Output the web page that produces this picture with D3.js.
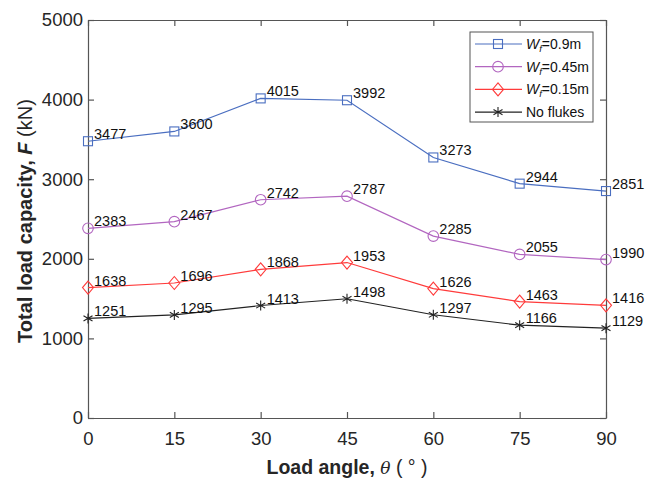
<!DOCTYPE html>
<html>
<head>
<meta charset="utf-8">
<script src="https://cdn.jsdelivr.net/npm/d3@7"></script>
<style>
  body { margin: 0; background: #fff; }
  text { font-family: "Liberation Sans", Arial, sans-serif; }
</style>
</head>
<body>
<div class="root"></div>
<script>
var angles = [0, 15, 30, 45, 60, 75, 90];
var wf09 = [3477, 3600, 4015, 3992, 3273, 2944, 2851];
var wf045 = [2383, 2467, 2742, 2787, 2285, 2055, 1990];
var wf015 = [1638, 1696, 1868, 1953, 1626, 1463, 1416];
var noFlukes = [1251, 1295, 1413, 1498, 1297, 1166, 1129];
var xTicks = [0, 15, 30, 45, 60, 75, 90];
var yTicks = [0, 1000, 2000, 3000, 4000, 5000];

var series = [
  {name: '0.9m', values: wf09, color: '#4a6ec0', marker: 'square'},
  {name: '0.45m', values: wf045, color: '#b266c0', marker: 'circle'},
  {name: '0.15m', values: wf015, color: '#ff3b3b', marker: 'diamond'},
  {name: 'No flukes', values: noFlukes, color: '#222', marker: 'star'}
];

function drawMarker(g, type, color) {
  if (type === 'square') {
    g.append('rect').attr('x', -4.5).attr('y', -4.5).attr('width', 9).attr('height', 9)
      .attr('fill', 'none').attr('stroke', color).attr('stroke-width', 1.1);
  } else if (type === 'circle') {
    g.append('circle').attr('r', 5.3)
      .attr('fill', 'none').attr('stroke', color).attr('stroke-width', 1.1);
  } else if (type === 'diamond') {
    g.append('path').attr('d', 'M0,-6.5L5.5,0L0,6.5L-5.5,0Z')
      .attr('fill', 'none').attr('stroke', color).attr('stroke-width', 1.1);
  } else {
    g.append('path').attr('d', 'M0,-5V5M-4.5,-2.6L4.5,2.6M-4.5,2.6L4.5,-2.6')
      .attr('fill', 'none').attr('stroke', color).attr('stroke-width', 1.1);
  }
}

function runChart() {
  var w = 657, h = 482;
  var m = {left: 88, right: 51, top: 20, bottom: 64};
  var iw = w - m.left - m.right, ih = h - m.top - m.bottom;

  var svg = d3.select('.root').append('svg')
    .attr('width', w)
    .attr('height', h);

  var x = d3.scaleLinear().domain([0, 90]).range([0, iw]);
  var y = d3.scaleLinear().domain([0, 5000]).range([ih, 0]);

  var g = svg.append('g').attr('transform', 'translate(' + m.left + ',' + m.top + ')');

  // axes with inward ticks on all four sides
  var axisColor = '#555';
  function styleAxis(sel) {
    sel.select('.domain').attr('stroke', axisColor).attr('stroke-width', 1.2);
    sel.selectAll('.tick line').attr('stroke', axisColor).attr('stroke-width', 1.2);
    sel.selectAll('.tick text').attr('fill', '#262626').attr('font-size', 18.5);
  }
  g.append('g').attr('transform', 'translate(0,' + ih + ')')
    .call(d3.axisBottom(x).tickValues(xTicks).tickSizeInner(-6).tickSizeOuter(0).tickPadding(14))
    .call(styleAxis);
  g.append('g')
    .call(d3.axisLeft(y).tickValues(yTicks).tickFormat(d3.format('d')).tickSizeInner(-6).tickSizeOuter(0).tickPadding(5))
    .call(styleAxis);
  g.append('g')
    .call(d3.axisTop(x).tickValues(xTicks).tickSizeInner(-6).tickSizeOuter(0).tickFormat(''))
    .call(styleAxis);
  g.append('g').attr('transform', 'translate(' + iw + ',0)')
    .call(d3.axisRight(y).tickValues(yTicks).tickSizeInner(-6).tickSizeOuter(0).tickFormat(''))
    .call(styleAxis);

  var line = d3.line()
    .x(function(d, i) { return x(angles[i]); })
    .y(function(d) { return y(d); });

  series.forEach(function(s) {
    g.append('path').datum(s.values)
      .attr('d', line)
      .attr('fill', 'none')
      .attr('stroke', s.color)
      .attr('stroke-width', 1.2);

    s.values.forEach(function(v, i) {
      var mg = g.append('g').attr('transform', 'translate(' + x(angles[i]) + ',' + y(v) + ')');
      drawMarker(mg, s.marker, s.color);
      g.append('text')
        .attr('x', x(angles[i]) + 6)
        .attr('y', y(v) - 2)
        .attr('font-size', 14.5)
        .attr('fill', '#111')
        .text(v);
    });
  });

  // legend
  var lg = svg.append('g').attr('transform', 'translate(470,32)');
  lg.append('rect').attr('width', 123).attr('height', 90)
    .attr('fill', '#fff').attr('stroke', '#555').attr('stroke-width', 1);
  series.forEach(function(s, i) {
    var ry = 12 + i * 22.7;
    lg.append('line').attr('x1', 5).attr('x2', 52).attr('y1', ry).attr('y2', ry)
      .attr('stroke', s.color).attr('stroke-width', 1.2);
    drawMarker(lg.append('g').attr('transform', 'translate(28,' + ry + ')'), s.marker, s.color);
    var t = lg.append('text').attr('x', 56).attr('y', ry + 5).attr('font-size', 14).attr('fill', '#111');
    if (s.marker === 'star') {
      t.text(s.name);
    } else {
      t.append('tspan').attr('font-style', 'italic').text('W');
      t.append('tspan').attr('font-style', 'italic').attr('font-size', 9.5).attr('dy', 3).text('f');
      t.append('tspan').attr('dy', -3).text('=' + s.name);
    }
  });

  // axis titles
  var xt = svg.append('text')
    .attr('x', m.left + iw / 2).attr('y', 474)
    .attr('text-anchor', 'middle')
    .attr('font-size', 19.5).attr('font-weight', 'bold').attr('fill', '#262626');
  xt.append('tspan').text('Load angle, ');
  xt.append('tspan').attr('font-style', 'italic').attr('font-family', 'DejaVu Serif').attr('font-weight', 'normal').attr('font-size', 17).text('θ');
  xt.append('tspan').attr('font-weight', 'normal').text('  ( ° )');

  var yt = svg.append('text')
    .attr('transform', 'translate(32,' + (m.top + ih / 2 + 2) + ') rotate(-90)')
    .attr('text-anchor', 'middle')
    .attr('font-size', 20).attr('font-weight', 'bold').attr('fill', '#262626');
  yt.append('tspan').text('Total load capacity, ');
  yt.append('tspan').attr('font-style', 'italic').text('F');
  yt.append('tspan').attr('font-weight', 'normal').text(' (kN)');
}

window.onload = function() {
  runChart();
};
</script>
</body>
</html>
